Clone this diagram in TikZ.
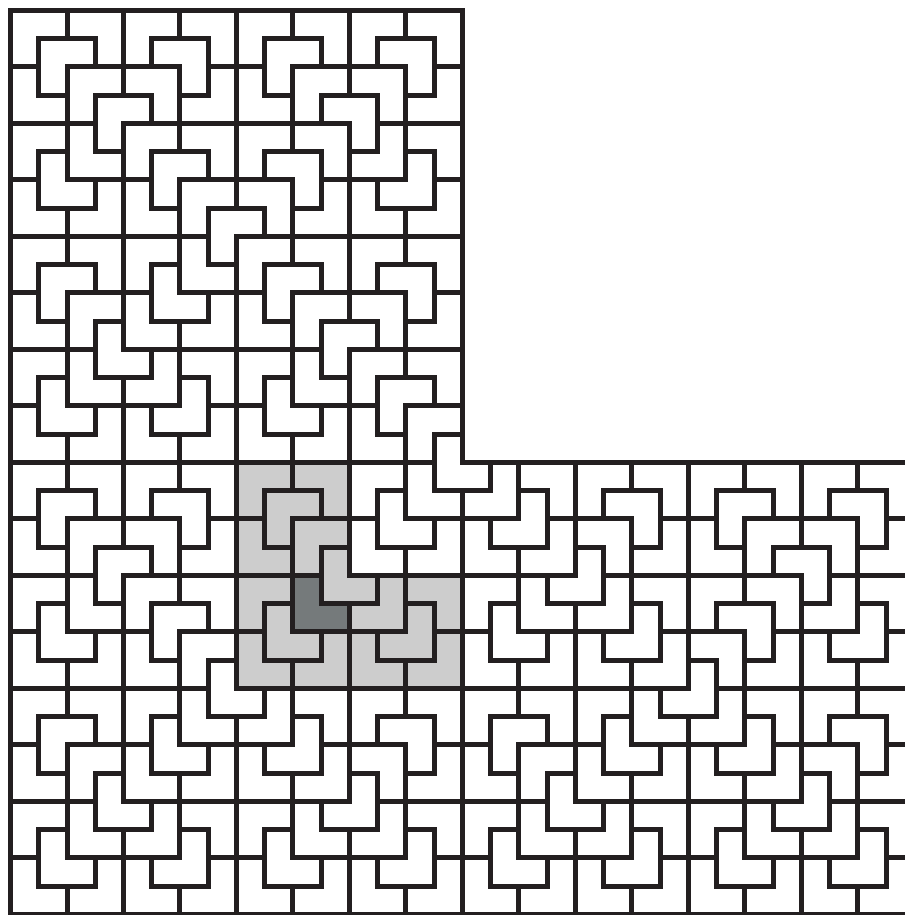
\documentclass[tikz,border=0pt]{standalone}
\definecolor{inkblack}{HTML}{231F20}
\definecolor{lightfill}{HTML}{CDCDCD}
\definecolor{darkfill}{HTML}{757A7B}
\tikzset{tileline/.style={draw=inkblack,line width=0.177cm,line join=miter}}

% one L-tromino: lower-left corner (#1,#2), side #3, missing quadrant #4 (0 BL,1 BR,2 TR,3 TL)
\newcommand\drawL[4]{%
  \begingroup
  \pgfmathsetmacro\hL{#3/2}%
  \ifcase#4\relax
    \draw[tileline] (#1+\hL,#2) -- ++(\hL,0) -- ++(0,#3) -- ++(-#3,0) -- ++(0,-\hL) -- ++(\hL,0) -- cycle;
  \or
    \draw[tileline] (#1,#2) -- ++(\hL,0) -- ++(0,\hL) -- ++(\hL,0) -- ++(0,\hL) -- ++(-#3,0) -- cycle;
  \or
    \draw[tileline] (#1,#2) -- ++(#3,0) -- ++(0,\hL) -- ++(-\hL,0) -- ++(0,\hL) -- ++(-\hL,0) -- cycle;
  \or
    \draw[tileline] (#1,#2) -- ++(#3,0) -- ++(0,#3) -- ++(-\hL,0) -- ++(0,-\hL) -- ++(-\hL,0) -- cycle;
  \fi
  \endgroup}

% recursive chair dissection
\newcommand\chairtile[5]{%
  \begingroup
  \ifnum#5=0\relax
    \drawL{#1}{#2}{#3}{#4}%
  \else
    \pgfmathsetmacro\hh{#3/2}%
    \pgfmathsetmacro\xa{#1+#3/4}%
    \pgfmathsetmacro\ya{#2+#3/4}%
    \pgfmathsetmacro\xm{#1+#3/2}%
    \pgfmathsetmacro\ym{#2+#3/2}%
    \edef\lv{\the\numexpr#5-1\relax}%
    \edef\next{%
      \noexpand\chairtile{\xa}{\ya}{\hh}{#4}{\lv}%
      \ifnum#4=0 \else\noexpand\chairtile{#1}{#2}{\hh}{2}{\lv}\fi
      \ifnum#4=1 \else\noexpand\chairtile{\xm}{#2}{\hh}{3}{\lv}\fi
      \ifnum#4=2 \else\noexpand\chairtile{\xm}{\ym}{\hh}{0}{\lv}\fi
      \ifnum#4=3 \else\noexpand\chairtile{#1}{\ym}{\hh}{1}{\lv}\fi
    }%
    \next
  \fi
  \endgroup}

\begin{document}
\begin{tikzpicture}
\useasboundingbox (-0.372,-0.02) rectangle (31.66,32.372);
\fill[lightfill] (8,8) -- (16,8) -- (16,12) -- (12,12) -- (12,16) -- (8,16) -- cycle;
\fill[darkfill] (10,10) -- (12,10) -- (12,11) -- (11,11) -- (11,12) -- (10,12) -- cycle;
\chairtile{0}{0}{32}{2}{4}
\end{tikzpicture}
\end{document}
